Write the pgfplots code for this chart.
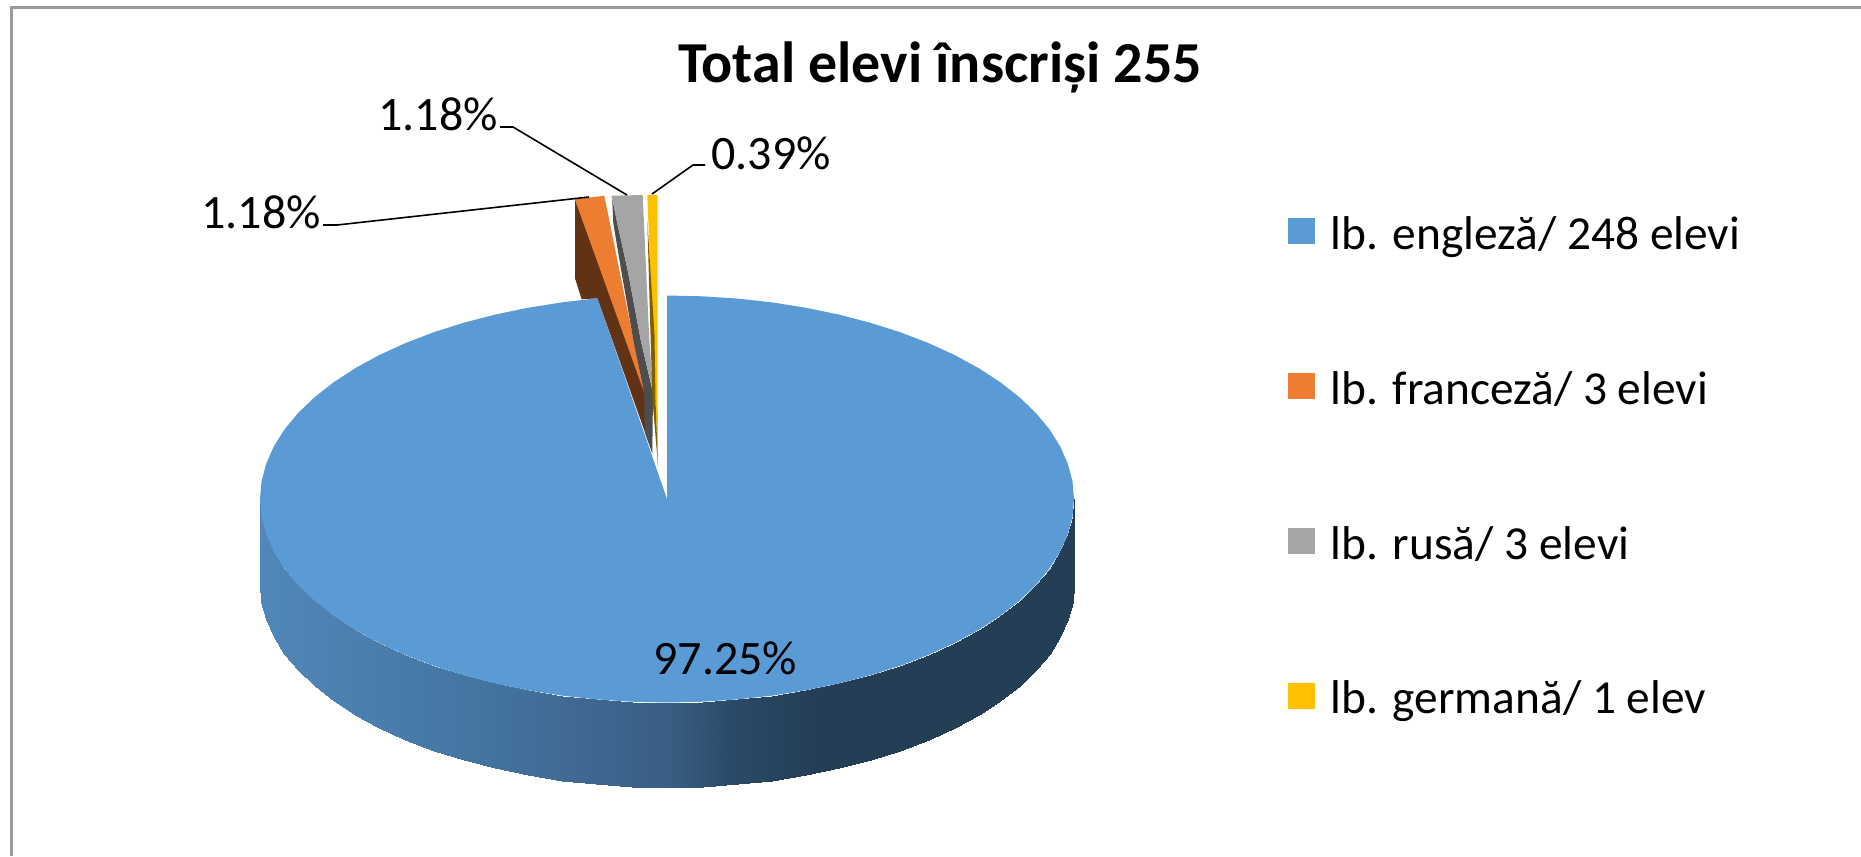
\documentclass[border=0pt]{standalone}
\usepackage{fontspec}
\setmainfont{Carlito}
\usepackage{pgfplots}
\pgfplotsset{compat=1.18}
\definecolor{pblue}{HTML}{5B9BD5}
\definecolor{porange}{HTML}{ED7D31}
\definecolor{pgray}{HTML}{A5A5A5}
\definecolor{pgold}{HTML}{FFC000}
\definecolor{pbrown}{HTML}{613214}
\definecolor{pdark}{HTML}{4D4D4D}
\definecolor{pgoldd}{HTML}{7F6000}
\definecolor{frame}{HTML}{9A9A9A}
\begin{document}
\begin{tikzpicture}
\useasboundingbox (0,0) rectangle (930.5pt,428pt);
% axis runs in the reference's pixels, y downwards
\begin{axis}[
  at={(0,0)},anchor=south west,
  scale only axis,width=930.5pt,height=428pt,
  xmin=0,xmax=1861,ymin=0,ymax=856,y dir=reverse,
  hide axis,
  colormap={pieside}{rgb255(0)=(81,135,185) rgb255(25)=(69,118,163) rgb255(50)=(58,94,132) rgb255(58)=(42,74,104) rgb255(68)=(36,62,86) rgb255(100)=(36,62,86)},
  point meta min=260,point meta max=1074,
  legend image code/.code={\fill[#1] (0pt,-2.5pt) rectangle (13.5pt,10.5pt);\path (21.2pt,0pt);},
  legend cell align=left,
  legend style={at={(axis cs:1288,217)},anchor=north west,draw=none,fill=none,
    inner sep=0pt,row sep=55.4pt,font=\fontsize{23.7}{24}\selectfont,
    nodes={inner sep=0pt,text height=16pt,text depth=6pt}},
]
% frame, top and left only
\addplot[frame,line width=1.3pt,forget plot] coordinates {(1861,7.5)(11.5,7.5)(11.5,856)};

% blue side wall, colour follows x
\addplot[surf,shader=interp,mesh/rows=2,point meta=x,forget plot] coordinates {
  (1074,499)(1072.5,516.7)(1067.8,534.3)(1060.1,551.7)(1049.5,568.6)(1035.9,585)
  (1019.5,600.7)(1000.4,615.7)(978.8,629.8)(954.8,642.9)(928.6,654.9)(900.4,665.7)
  (870.5,675.2)(839,683.4)(806.2,690.2)(772.3,695.6)(737.7,699.4)(702.5,701.7)(667,702.5)
  (631.5,701.7)(596.3,699.4)(561.7,695.6)(527.8,690.2)(495,683.4)(463.5,675.2)(433.6,665.7)
  (405.4,654.9)(379.2,642.9)(355.2,629.8)(333.6,615.7)(314.5,600.7)(298.1,585)(284.5,568.6)
  (273.9,551.7)(266.2,534.3)(261.5,516.7)(260,499)

  (1074,584)(1072.5,601.7)(1067.8,619.3)(1060.1,636.7)(1049.5,653.6)(1035.9,670)
  (1019.5,685.7)(1000.4,700.7)(978.8,714.8)(954.8,727.9)(928.6,739.9)(900.4,750.7)
  (870.5,760.2)(839,768.4)(806.2,775.2)(772.3,780.6)(737.7,784.4)(702.5,786.7)(667,787.5)
  (631.5,786.7)(596.3,784.4)(561.7,780.6)(527.8,775.2)(495,768.4)(463.5,760.2)(433.6,750.7)
  (405.4,739.9)(379.2,727.9)(355.2,714.8)(333.6,700.7)(314.5,685.7)(298.1,670)(284.5,653.6)
  (273.9,636.7)(266.2,619.3)(261.5,601.7)(260,584)};

% blue top face, 97.25%
\addplot[fill=pblue,draw=none] coordinates {
  (667,499)(667,295.5)(702.5,296.3)(737.7,298.6)(772.3,302.4)(806.2,307.8)(839,314.6)
  (870.5,322.8)(900.4,332.3)(928.6,343.1)(954.8,355.1)(978.8,368.2)(1000.4,382.3)
  (1019.5,397.3)(1035.9,413)(1049.5,429.4)(1060.1,446.3)(1067.8,463.7)(1072.5,481.3)
  (1074,499)(1072.5,516.7)(1067.8,534.3)(1060.1,551.7)(1049.5,568.6)(1035.9,585)
  (1019.5,600.7)(1000.4,615.7)(978.8,629.8)(954.8,642.9)(928.6,654.9)(900.4,665.7)
  (870.5,675.2)(839,683.4)(806.2,690.2)(772.3,695.6)(737.7,699.4)(702.5,701.7)(667,702.5)
  (631.5,701.7)(596.3,699.4)(561.7,695.6)(527.8,690.2)(495,683.4)(463.5,675.2)(433.6,665.7)
  (405.4,654.9)(379.2,642.9)(355.2,629.8)(333.6,615.7)(314.5,600.7)(298.1,585)(284.5,568.6)
  (273.9,551.7)(266.2,534.3)(261.5,516.7)(260,499)(261.5,481.3)(266.2,463.7)(273.9,446.3)
  (284.5,429.4)(298.1,413)(314.5,397.3)(333.6,382.3)(355.2,368.2)(379.2,355.1)(405.4,343.1)
  (433.6,332.3)(463.5,322.8)(495,314.6)(527.8,307.8)(561.7,302.4)(597.5,298.3)} -- cycle;
\addlegendentry{lb. engleză/ 248 elevi}

% pulled out slices
\addplot[fill=pbrown,draw=none,forget plot] coordinates {
  (575,199.3)(575,278.3)(581.7,299.3)(597.5,298.3)(652.3,453)(644,390)} -- cycle;
\addplot[fill=porange,draw=none] coordinates {(575,199.3)(604.3,195.7)(644,392)} -- cycle;
\addlegendentry{lb. franceză/ 3 elevi}
\addplot[fill=pdark,draw=none,forget plot] coordinates {
  (612.2,200)(613.3,223.3)(621.7,273.3)(633.3,340)(644,392)(645,433)(652.3,453)
  (653,393)(640.7,340)(628.3,273.3)(617.3,223.3)(611.7,196)} -- cycle;
\addplot[fill=pgray,draw=none] coordinates {
  (611.7,195.7)(642.7,195)(649.3,340)(653.3,393)(640.7,340)(628.3,273.3)(617.3,223.3)} -- cycle;
\addlegendentry{lb. rusă/ 3 elevi}
\addplot[fill=pgold,draw=none] coordinates {(647.3,195)(657.5,195)(657.5,360)(658,466)} -- cycle;
\addlegendentry{lb. germană/ 1 elev}
\addplot[fill=pgoldd,draw=none,forget plot] coordinates {
  (647.3,220)(650.5,335)(652.5,400)(658,466)(655.5,400)(654.5,335)} -- cycle;

% leader lines
\addplot[black,line width=0.8pt,forget plot] coordinates {(323,225)(337,225)(589,197)};
\addplot[black,line width=0.8pt,forget plot] coordinates {(500,127)(513,127)(627,195)};
\addplot[black,line width=0.8pt,forget plot] coordinates {(705,165)(693,165)(652,194)};

\node[anchor=base,font=\bfseries\fontsize{29}{29}\selectfont,inner sep=0pt] at (axis cs:940,83) {Total elevi înscriși 255};
\node[anchor=base west,font=\fontsize{24}{24}\selectfont,inner sep=0pt] at (axis cs:201,228) {1.18\%};
\node[anchor=base west,font=\fontsize{24}{24}\selectfont,inner sep=0pt] at (axis cs:378,130) {1.18\%};
\node[anchor=base west,font=\fontsize{24}{24}\selectfont,inner sep=0pt] at (axis cs:711,169) {0.39\%};
\node[anchor=base west,font=\fontsize{24}{24}\selectfont,inner sep=0pt] at (axis cs:653,674) {97.25\%};
\end{axis}
\end{tikzpicture}
\end{document}
